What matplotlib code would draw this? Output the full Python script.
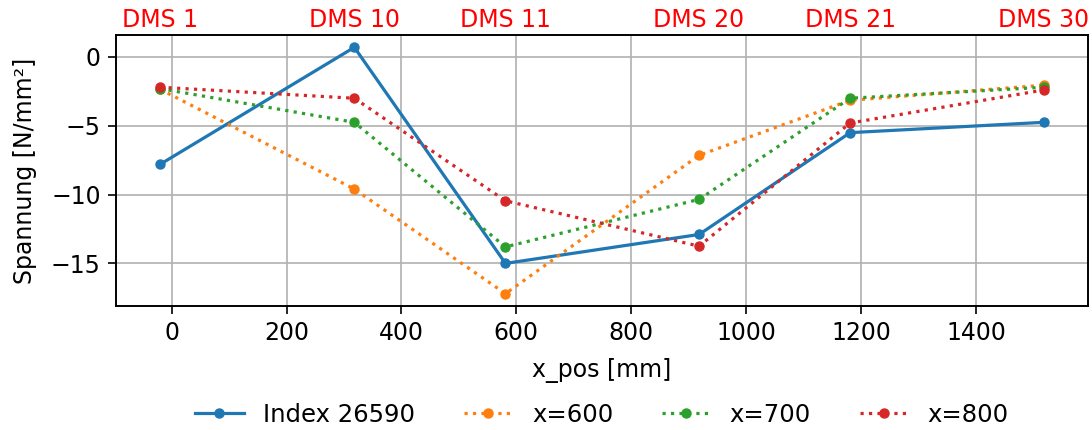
import matplotlib
matplotlib.use("Agg")
import matplotlib.pyplot as plt

# Sensor positions along the beam and their names
x_pos = [-20, 318, 581, 918, 1181, 1518]
dms_labels = ["DMS 1", "DMS 10", "DMS 11", "DMS 20", "DMS 21", "DMS 30"]

# Stress readings [N/mm²]
index_26590 = [-7.8, 0.7, -15.0, -12.9, -5.5, -4.75]
x600 = [-2.35, -9.6, -17.2, -7.15, -3.15, -2.05]
x700 = [-2.3, -4.75, -13.8, -10.35, -3.0, -2.2]
x800 = [-2.2, -3.0, -10.45, -13.75, -4.8, -2.4]

series = [
    ("Index 26590", index_26590, "#1f77b4", "-"),
    ("x=600", x600, "#ff7f0e", ":"),
    ("x=700", x700, "#2ca02c", ":"),
    ("x=800", x800, "#d62728", ":"),
]

plt.rcParams["font.size"] = 17

fig = plt.figure(figsize=(10.92, 4.30), dpi=100)
ax = fig.add_subplot(111)
fig.subplots_adjust(left=0.1062, right=0.9963, top=0.9186, bottom=0.2884)

for name, vals, color, ls in series:
    ax.plot(x_pos, vals, linestyle=ls, marker="o", color=color,
            linewidth=2.3, markersize=6.5, label=name)

ax.grid(True, color="#b0b0b0", linewidth=1.2)
ax.set_axisbelow(True)
ax.set_xlabel("x_pos [mm]", labelpad=9)
ax.set_ylabel("Spannung [N/mm²]", labelpad=10)
ax.set_xticks([0, 200, 400, 600, 800, 1000, 1200, 1400])
ax.set_yticks([0, -5, -10, -15])
ax.tick_params(length=5.5, width=1.2, pad=5.5)
for sp in ax.spines.values():
    sp.set_linewidth(1.2)

# Sensor names along the top edge
top = ax.twiny()
top.set_xlim(ax.get_xlim())
top.set_xticks(x_pos)
top.set_xticklabels(dms_labels)
top.tick_params(axis="x", length=0, pad=2, labelcolor="red")
for sp in top.spines.values():
    sp.set_linewidth(1.2)

# Legend centred under the plotting area
ax_box = ax.get_position()
fig.legend(loc="center", bbox_to_anchor=((ax_box.x0 + ax_box.x1) / 2, 0.035),
           ncol=4, frameon=False, fontsize=17.5)

fig.savefig("out.png", dpi=100)
